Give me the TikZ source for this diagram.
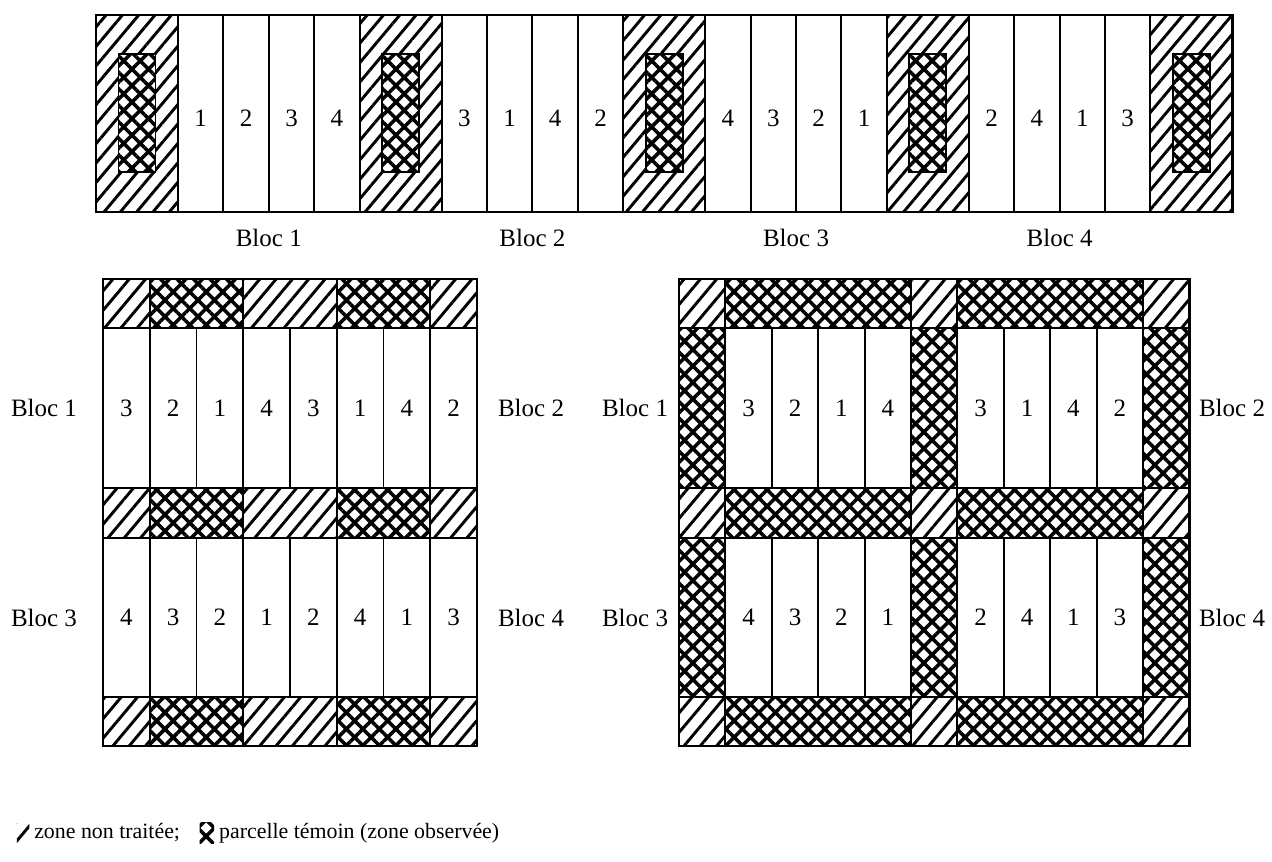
\documentclass[tikz,border=0pt]{standalone}
\usepackage{fontspec}
\setmainfont{Liberation Serif}
\usetikzlibrary{patterns.meta,positioning}

\tikzset{
  hatchfill/.style={pattern={Lines[angle=50,distance=6pt,line width=1.4pt]}},
  crossfill/.style={pattern={Hatch[angle=45,distance=5.6pt,line width=1.7pt]}},
  zone/.style={draw, line width=0.9pt, hatchfill},
  temoin/.style={draw, line width=0.9pt, fill=white, postaction={crossfill}},
  plot/.style={draw, line width=0.9pt},
  lab/.style={font=\fontsize{12}{14}\selectfont, inner sep=0pt},
  leglab/.style={font=\fontsize{10.5}{12}\selectfont, inner sep=0pt},
  legsym/.style={inner sep=0pt, minimum width=6pt, minimum height=9pt},
}

\begin{document}
\begin{tikzpicture}[x=0.48pt, y=-0.48pt]
  \useasboundingbox (0,0) rectangle (1272,861);

  % Top layout: zones between 4 blocs of 4 plots
  \foreach \b in {0,...,4} {
    \pgfmathsetmacro{\xa}{96+\b*(82+4*45.4)}
    \draw[zone] (\xa,15) rectangle ({\xa+82},212);
    \draw[temoin] ({\xa+22.5},54) rectangle ({\xa+59.5},172);
  }
  \foreach \b/\seq in {1/{1,2,3,4},2/{3,1,4,2},3/{4,3,2,1},4/{2,4,1,3}} {
    \pgfmathsetmacro{\xa}{96+82+(\b-1)*(82+4*45.4)}
    \foreach \n [count=\i from 0] in \seq {
      \draw[plot] ({\xa+\i*45.4},15) rectangle ({\xa+(\i+1)*45.4},212);
      \node[lab] (t\b-\i) at ({\xa+(\i+0.5)*45.4},118) {\n};
    }
    \node[lab] (tb\b) at ({\xa+2*45.4},238) {Bloc \b};
  }
  \draw[line width=1.1pt] (96,15) rectangle (1232.4,212);

  % Bottom left: bands of zones and temoins
  \foreach \ya/\yb in {279/328,488/538,697/746} {
    \foreach \c/\w/\s in {0/1/zone,1/2/temoin,3/2/zone,5/2/temoin,7/1/zone}
      \draw[\s] ({103+\c*46.75},\ya) rectangle ({103+(\c+\w)*46.75},\yb);
  }
  \foreach \ya/\yb/\r/\seq in {328/488/a/{3,2,1,4,3,1,4,2},538/697/b/{4,3,2,1,2,4,1,3}} {
    \foreach \n [count=\i from 0] in \seq {
      \draw[plot] ({103+\i*46.75},\ya) rectangle ({103+(\i+1)*46.75},\yb);
      \node[lab] (l\r-\i) at ({103+(\i+0.5)*46.75},{(\ya+\yb)/2}) {\n};
    }
  }
  \draw[line width=1.1pt] (103,279) rectangle (477,746);
  \node[lab] (lb1) at (44,408) {Bloc 1};
  \node[lab] (lb2) at (531,408) {Bloc 2};
  \node[lab] (lb3) at (44,618) {Bloc 3};
  \node[lab] (lb4) at (531,618) {Bloc 4};

  % Bottom right: temoins around each bloc
  \foreach \ya/\yb in {279/328,488/538,697/746} {
    \foreach \c/\w/\s in {0/1/zone,1/4/temoin,5/1/zone,6/4/temoin,10/1/zone}
      \draw[\s] ({679+\c*46.4},\ya) rectangle ({679+(\c+\w)*46.4},\yb);
  }
  \foreach \ya/\yb/\r/\seq in {328/488/a/{3,2,1,4,3,1,4,2},538/697/b/{4,3,2,1,2,4,1,3}} {
    \foreach \c in {0,5,10}
      \draw[temoin] ({679+\c*46.4},\ya) rectangle ({679+(\c+1)*46.4},\yb);
    \foreach \n [count=\i from 0] in \seq {
      \pgfmathsetmacro{\c}{\i<4 ? \i+1 : \i+2}
      \draw[plot] ({679+\c*46.4},\ya) rectangle ({679+(\c+1)*46.4},\yb);
      \node[lab] (r\r-\i) at ({679+(\c+0.5)*46.4},{(\ya+\yb)/2}) {\n};
    }
  }
  \draw[line width=1.1pt] (679,279) rectangle (1189.4,746);
  \node[lab] (rb1) at (635,408) {Bloc 1};
  \node[lab] (rb2) at (1232,408) {Bloc 2};
  \node[lab] (rb3) at (635,618) {Bloc 3};
  \node[lab] (rb4) at (1232,618) {Bloc 4};

  % Legend
  \node[legsym, hatchfill] (sym1) at (23,833) {};
  \node[leglab, right=2pt of sym1] (leg1) {zone non traitée;};
  \node[legsym, minimum width=7pt, minimum height=10pt, crossfill, right=9pt of leg1] (sym2) {};
  \node[leglab, right=2pt of sym2] (leg2) {parcelle témoin (zone observée)};
\end{tikzpicture}
\end{document}
